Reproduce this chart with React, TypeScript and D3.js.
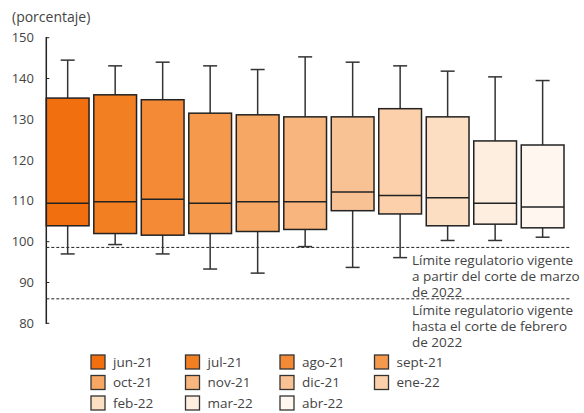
import React from "react";
import * as d3 from "d3";

const categories = ["jun-21","jul-21","ago-21","sept-21","oct-21","nov-21","dic-21","ene-22","feb-22","mar-22","abr-22"];
const colors = ["#f26f0f","#f37f23","#f48a36","#f5994d","#f6a763","#f8b57d","#f9c295","#fbd0aa","#fcdfc3","#fdeee0","#fef6ef"];
const whiskerHigh = [144.5,143.1,144.0,143.1,142.2,145.3,144.0,143.1,141.8,140.4,139.5];
const q3 = [135.2,136.0,134.8,131.5,131.1,130.6,130.6,132.6,130.6,124.7,123.7];
const median = [109.4,109.8,110.4,109.4,109.8,109.8,112.2,111.3,110.8,109.4,108.5];
const q1 = [103.9,102.0,101.6,102.0,102.5,103.0,107.6,106.8,103.9,104.3,103.4];
const whiskerLow = [97.0,99.3,97.0,93.3,92.3,98.8,93.7,96.1,100.3,100.3,101.1];
const yTicks = [80,90,100,110,120,130,140,150];
const limits = [98.6, 86.0];
const limitLabels = [
  ["Límite regulatorio vigente","a partir del corte de marzo","de 2022"],
  ["Límite regulatorio vigente","hasta el corte de febrero","de 2022"],
];

const W = 584, H = 413;
const FONT = "'Open Sans', sans-serif";

export default function App() {
  const y = d3.scaleLinear().domain([80,150]).range([323.3,37.7]);
  const x = d3.scaleBand<string>().domain(categories).range([46.3,564]).paddingInner(0.1).paddingOuter(0);
  const bw = x.bandwidth();
  const axisX = 46.3;
  const capW = 14;
  return (
    <svg width={W} height={H} style={{position:"absolute",left:0,top:0}} fontFamily={FONT}>
      <rect width={W} height={H} fill="#fff"/>
      <text x={12} y={22} fontSize={14} fill="#444">(porcentaje)</text>
      {yTicks.map(t => (
        <g key={t}>
          <line x1={axisX} x2={axisX+3} y1={y(t)} y2={y(t)} stroke="#222" strokeWidth={1}/>
          <text x={34} y={y(t)} dy="0.35em" textAnchor="end" fontSize={13} fill="#444">{t}</text>
        </g>
      ))}
      {limits.map((v,i) => (
        <line key={i} x1={axisX} x2={571} y1={y(v)} y2={y(v)} stroke="#222" strokeWidth={1} strokeDasharray="3,2"/>
      ))}
      {categories.map((c,i) => {
        const x0 = x(c)!;
        const cx = x0 + bw/2;
        return (
          <g key={c}>
            <line x1={cx} x2={cx} y1={y(whiskerHigh[i])} y2={y(q3[i])} stroke="#333" strokeWidth={1.5}/>
            <line x1={cx-capW/2} x2={cx+capW/2} y1={y(whiskerHigh[i])} y2={y(whiskerHigh[i])} stroke="#333" strokeWidth={1.5}/>
            <line x1={cx} x2={cx} y1={y(q1[i])} y2={y(whiskerLow[i])} stroke="#333" strokeWidth={1.5}/>
            <line x1={cx-capW/2} x2={cx+capW/2} y1={y(whiskerLow[i])} y2={y(whiskerLow[i])} stroke="#333" strokeWidth={1.5}/>
            <rect x={x0} y={y(q3[i])} width={bw} height={y(q1[i])-y(q3[i])} fill={colors[i]} stroke="#222" strokeWidth={1.5}/>
            <line x1={x0} x2={x0+bw} y1={y(median[i])} y2={y(median[i])} stroke="#222" strokeWidth={1.5}/>
          </g>
        );
      })}
      <line x1={axisX} x2={axisX} y1={37} y2={324} stroke="#222" strokeWidth={1.5}/>
      {limitLabels.map((lines,i) => (
        <g key={i}>
          {lines.map((l,j) => (
            <text key={j} x={412} y={[260.7,310.7][i] + j*15.8} dy="0.35em" fontSize={13.5} fill="#444">{l}</text>
          ))}
        </g>
      ))}
      {categories.map((c,i) => {
        const col = i % 4, row = Math.floor(i/4);
        const lx = 91 + col*94.5;
        const ly = 355 + row*20.5;
        return (
          <g key={c}>
            <rect x={lx} y={ly} width={14} height={14} fill={colors[i]} stroke="#333" strokeWidth={1.3}/>
            <text x={lx+22} y={ly+7} dy="0.35em" fontSize={13.5} fill="#444">{c}</text>
          </g>
        );
      })}
    </svg>
  );
}
